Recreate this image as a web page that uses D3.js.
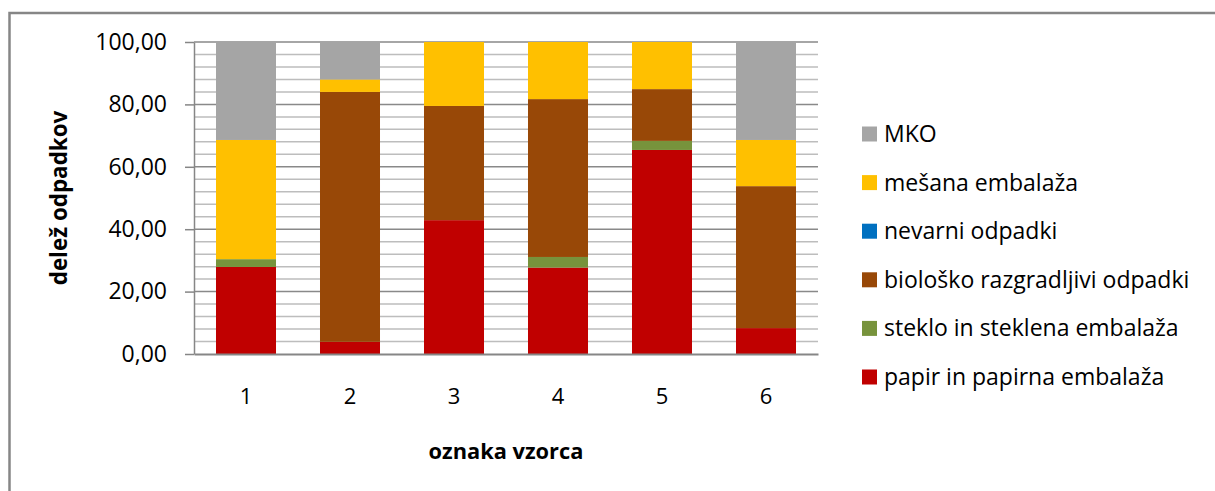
<!DOCTYPE html>
<html>
<head>
<meta charset="utf-8">
<script src="https://cdn.jsdelivr.net/npm/d3@7"></script>
<style>
  html, body { margin: 0; padding: 0; background: #fff; }
  svg { display: block; font-family: 'Open Sans', sans-serif; }
</style>
</head>
<body>
<div id="chart"></div>
<script>
'use strict';

// Data
var samples = ['1', '2', '3', '4', '5', '6'];
var papir = [27.9, 3.9, 42.9, 27.7, 65.4, 8.3];
var steklo = [2.5, 0, 0, 3.4, 2.9, 0];
var bioloski = [0, 80.1, 36.6, 50.6, 16.6, 45.5];
var nevarni = [0, 0, 0, 0, 0, 0];
var mesana = [38.2, 4.0, 20.5, 18.3, 15.1, 14.8];
var mko = [31.4, 12.0, 0, 0, 0, 31.4];
var seriesNames = ['papir in papirna embalaža', 'steklo in steklena embalaža',
	'biološko razgradljivi odpadki', 'nevarni odpadki', 'mešana embalaža', 'MKO'];
var seriesColors = ['#C00000', '#77933C', '#984807', '#0070C0', '#FFC000', '#A5A5A5'];
var yTicks = [0, 20, 40, 60, 80, 100];

var svg = d3.select('#chart').append('svg')
	.attr('width', 1215)
	.attr('height', 491);

// outer frame (runs off the right and bottom edge)
svg.append('rect')
	.attr('x', 9.5).attr('y', 13)
	.attr('width', 1300).attr('height', 600)
	.attr('fill', 'none')
	.attr('stroke', '#868686')
	.attr('stroke-width', 2.5);

// Dimensions
var margin = {top: 42, left: 194};
var width = 624;
var height = 312;
var g = svg.append('g').attr('transform', 'translate(' + margin.left + ',' + margin.top + ')');

var keys = seriesNames;
var table = samples.map(function(s, i) {
	var row = {sample: s};
	[papir, steklo, bioloski, nevarni, mesana, mko].forEach(function(arr, k) { row[keys[k]] = arr[i]; });
	return row;
});
var dataset = d3.stack().keys(keys)(table);

// Scales
var x = d3.scaleBand().domain(samples).range([0, width]).paddingInner(0.423).paddingOuter(0.2115);
var y = d3.scaleLinear().domain([0, 100]).range([height, 0]);
var z = d3.scaleOrdinal().domain(keys).range(seriesColors);
var locale = d3.formatLocale({decimal: ',', thousands: '.', grouping: [3], currency: ['', '']});
var fmt = locale.format('.2f');

// Gridlines
g.append('g').attr('class', 'minor-grid')
	.selectAll('line')
	.data(d3.range(4, 100, 4).filter(function(v) { return v % 20 !== 0; }))
	.enter().append('line')
		.attr('x1', 0).attr('x2', width)
		.attr('y1', function(d) { return y(d); })
		.attr('y2', function(d) { return y(d); })
		.attr('stroke', '#bdbdbd')
		.attr('stroke-width', 1.5);

g.append('g').attr('class', 'major-grid')
	.selectAll('line')
	.data(yTicks.slice(1))
	.enter().append('line')
		.attr('x1', 0).attr('x2', width)
		.attr('y1', function(d) { return y(d); })
		.attr('y2', function(d) { return y(d); })
		.attr('stroke', '#898989')
		.attr('stroke-width', 1.5);

// Bars
g.selectAll('.series')
	.data(dataset)
	.enter().append('g')
		.attr('class', 'series')
		.attr('fill', function(d) { return z(d.key); })
	.selectAll('rect')
	.data(function(d) { return d; })
	.enter().append('rect')
		.attr('x', function(d) { return x(d.data.sample); })
		.attr('y', function(d) { return y(d[1]); })
		.attr('height', function(d) { return y(d[0]) - y(d[1]); })
		.attr('width', x.bandwidth());

// Y Axis
var yAxis = g.append('g')
	.attr('class', 'axis axis-y')
	.call(d3.axisLeft(y).tickValues(yTicks).tickFormat(fmt).tickSizeInner(9).tickSizeOuter(0).tickPadding(18));
yAxis.select('.domain').attr('stroke', '#868686').attr('stroke-width', 1.5);
yAxis.selectAll('.tick line').attr('stroke', '#868686').attr('stroke-width', 1.5);
yAxis.selectAll('.tick text')
	.attr('font-size', 23)
	.attr('font-family', "'Open Sans', sans-serif")
	.attr('fill', '#000');

// X Axis
var xAxis = g.append('g')
	.attr('class', 'axis axis-x')
	.attr('transform', 'translate(0,' + height + ')')
	.call(d3.axisBottom(x).tickSize(0).tickPadding(34));
xAxis.select('.domain').attr('stroke', '#868686').attr('stroke-width', 2);
xAxis.selectAll('.tick text')
	.attr('font-size', 22)
	.attr('font-family', "'Open Sans', sans-serif")
	.attr('fill', '#000');

// Axis titles
svg.append('text')
	.attr('transform', 'translate(59,' + (margin.top + height / 2) + ') rotate(-90)')
	.attr('text-anchor', 'middle')
	.attr('dy', '0.35em')
	.attr('font-size', 22.4)
	.attr('font-weight', 'bold')
	.text('delež odpadkov');

svg.append('text')
	.attr('x', margin.left + width / 2)
	.attr('y', 451)
	.attr('text-anchor', 'middle')
	.attr('dy', '0.35em')
	.attr('font-size', 21.8)
	.attr('font-weight', 'bold')
	.text('oznaka vzorca');

// Legend
var legendKeys = keys.slice().reverse();
var legend = svg.append('g').attr('class', 'legend')
	.selectAll('g')
	.data(legendKeys)
	.enter().append('g')
		.attr('transform', function(d, i) { return 'translate(862,' + (134 + i * 48.6) + ')'; });
legend.append('rect')
	.attr('x', 0).attr('y', -7.5)
	.attr('width', 15).attr('height', 15)
	.attr('fill', function(d) { return z(d); });
legend.append('text')
	.attr('x', 22)
	.attr('dy', '0.35em')
	.attr('font-size', 23)
	.text(function(d) { return d; });
</script>
</body>
</html>
